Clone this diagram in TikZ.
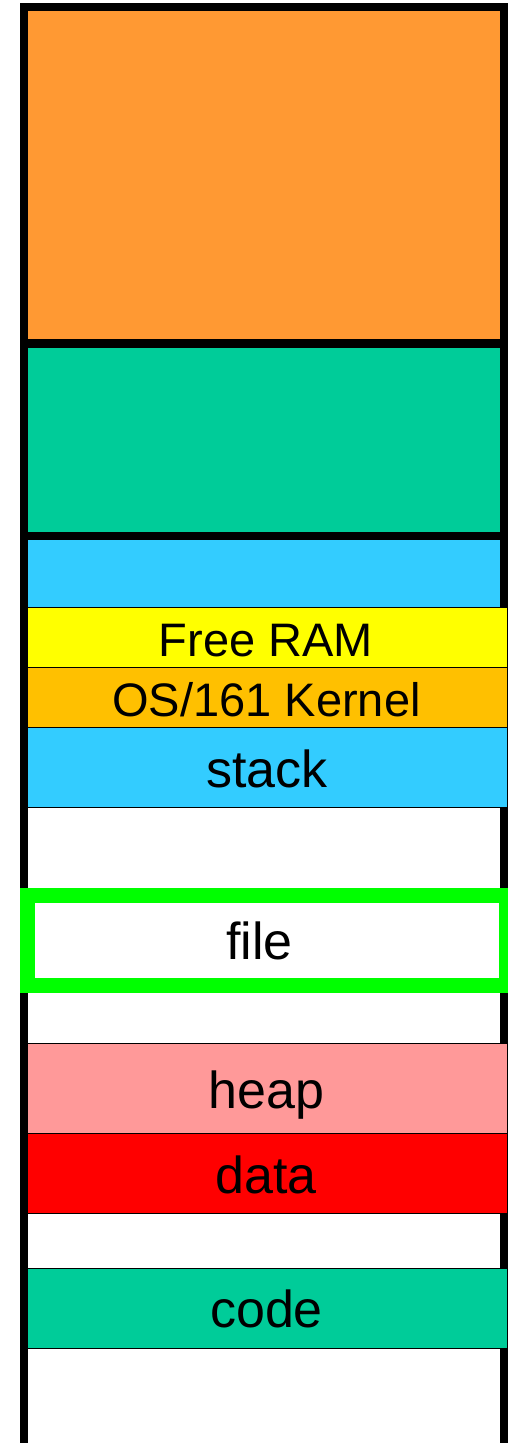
\documentclass[tikz,border=0pt]{standalone}
\usepackage{fontspec}
\setmainfont{Liberation Sans}
\definecolor{segorange}{HTML}{FF9933}
\definecolor{segteal}{HTML}{00CC99}
\definecolor{segblue}{HTML}{33CCFF}
\definecolor{segyellow}{HTML}{FFFF00}
\definecolor{segkernel}{HTML}{FFC000}
\definecolor{segheap}{HTML}{FF9999}
\definecolor{segdata}{HTML}{FF0000}
\definecolor{seggreen}{HTML}{00FF00}
\begin{document}
\begin{tikzpicture}[x=1pt,y=-1pt,
  frame/.style={line width=8pt,line join=miter},
  slab/.style={draw=black,line width=1pt},
  biglabel/.style={inner sep=0pt,anchor=base,font=\fontsize{52}{60}\selectfont},
  smalllabel/.style={inner sep=0pt,anchor=base,font=\fontsize{47}{55}\selectfont}]
\useasboundingbox (0,0) rectangle (508,1443);
\fill[white] (0,0) rectangle (508,1443);

% outer frame of the address space
\draw[frame] (24,1443) -- (24,7) -- (504,7) -- (504,1443);
\fill[black] (20,339) rectangle (508,348);
\fill[black] (20,532) rectangle (508,540);

% upper regions
\fill[segorange] (28,11) rectangle (500,339);
\fill[segteal] (28,348) rectangle (500,532);
\fill[segblue] (28,540) rectangle (500,607);

% segments
\draw[slab,fill=segyellow] (27.5,607) rectangle (507,667);
\draw[slab,fill=segkernel] (27.5,667) rectangle (507,727);
\draw[slab,fill=segblue] (27.5,727) rectangle (507,807);
\draw[slab,fill=segheap] (27.5,1043) rectangle (507,1133);
\draw[slab,fill=segdata] (27.5,1133) rectangle (507,1213);
\draw[slab,fill=white] (27.5,1213) rectangle (500,1268);
\draw[slab,fill=segteal] (27.5,1268) rectangle (507,1348);

% highlighted file region
\draw[seggreen,line width=15pt] (27.5,895) rectangle (506.5,985);

% labels
\node[smalllabel] (freeram) at (266,656) {Free RAM};
\node[smalllabel] (kernel) at (266.5,716) {OS/161 Kernel};
\node[biglabel] (stack) at (267,787) {stack};
\node[biglabel] (file) at (259.5,959) {file};
\node[biglabel] (heap) at (266.5,1108) {heap};
\node[biglabel] (data) at (266,1193) {data};
\node[biglabel] (code) at (266.5,1327) {code};
\end{tikzpicture}
\end{document}
